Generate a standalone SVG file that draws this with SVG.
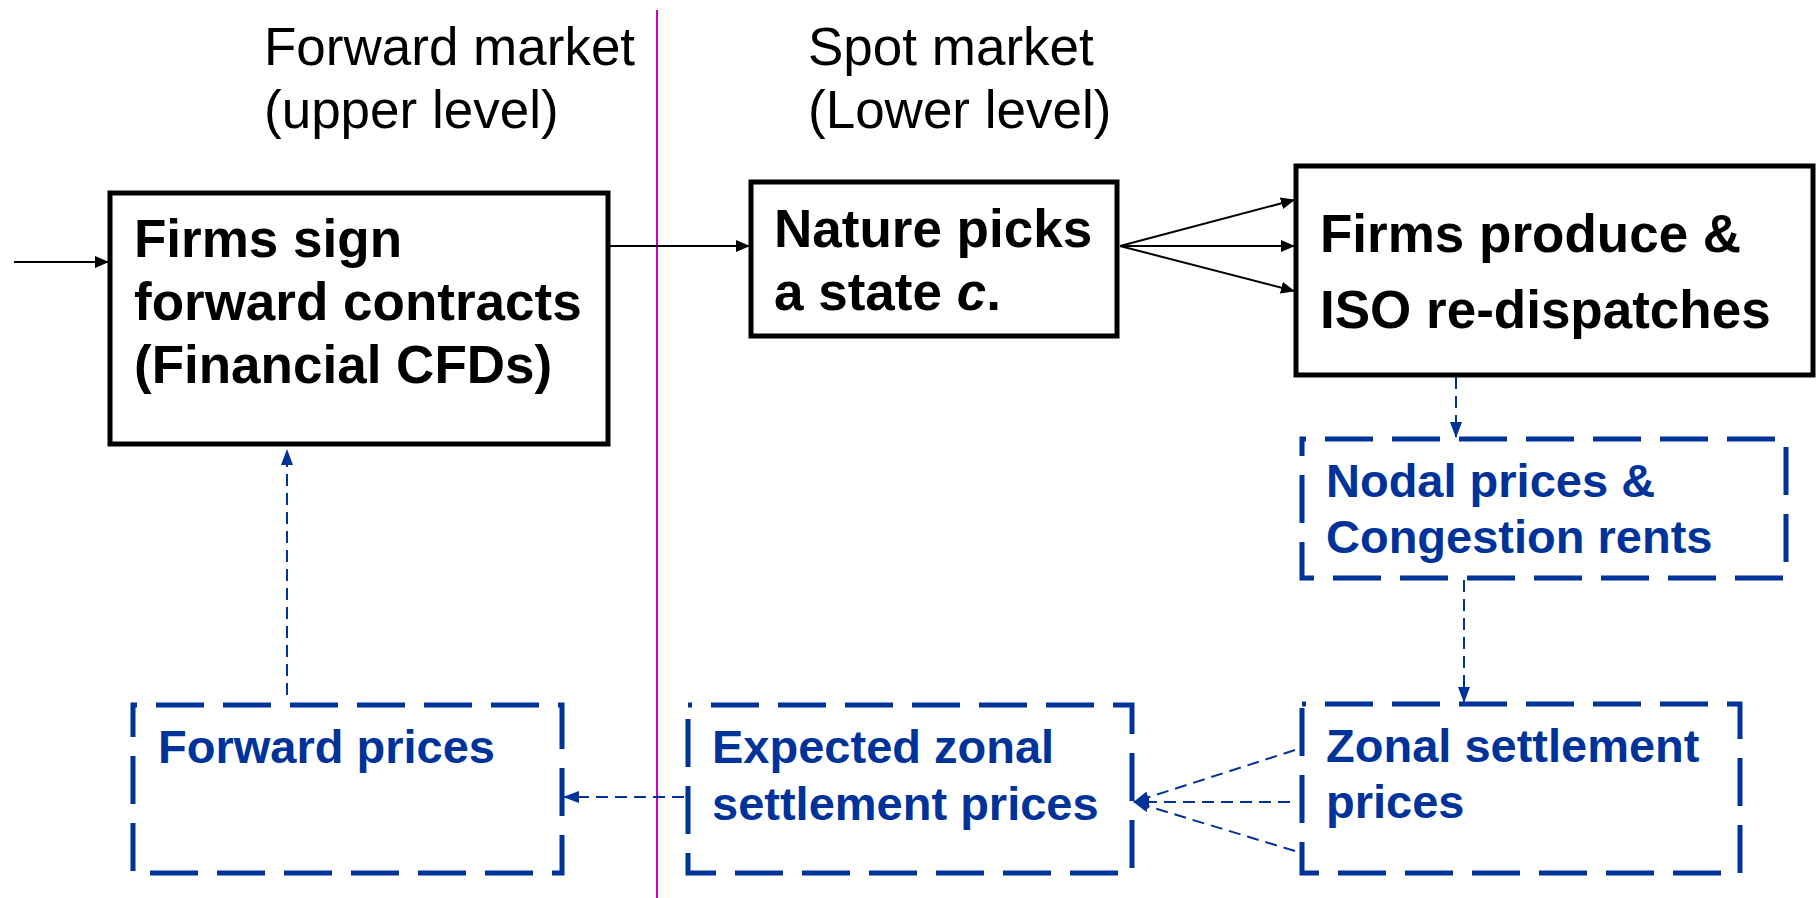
<svg xmlns="http://www.w3.org/2000/svg" width="1816" height="898" viewBox="0 0 1816 898">
  <style>
    .hdr { font-family: "Liberation Sans", Arial, sans-serif; font-size: 53px; fill: #000; }
    .blk { font-family: "Liberation Sans", Arial, sans-serif; font-size: 53px; font-weight: bold; fill: #000; }
    .blu { font-family: "Liberation Sans", Arial, sans-serif; font-size: 47px; font-weight: bold; fill: #003399; }
    .solidbox { fill: #fff; stroke: #000; stroke-width: 5; }
    .dashbox { fill: none; stroke: #003399; stroke-width: 5; stroke-dasharray: 48 19; stroke-dashoffset: 44; }
    .solid { stroke: #000; stroke-width: 2; fill: none; }
    .dash { stroke: #003399; stroke-width: 2; fill: none; stroke-dasharray: 12 7; }
  </style>
  <defs>
    <marker id="ab" markerUnits="userSpaceOnUse" markerWidth="14" markerHeight="12" refX="13" refY="6" orient="auto">
      <path d="M0,0 L14,6 L0,12 Z" fill="#000"/>
    </marker>
    <marker id="au" markerUnits="userSpaceOnUse" markerWidth="16" markerHeight="12" refX="15" refY="6" orient="auto">
      <path d="M0,0 L16,6 L0,12 Z" fill="#003399"/>
    </marker>
  </defs>

  <line x1="657" y1="10" x2="657" y2="898" stroke="#cc00cc" stroke-width="2"/>

  <g id="headers">
    <text class="hdr" x="264" y="65">Forward market</text>
    <text class="hdr" x="264" y="128">(upper level)</text>
    <text class="hdr" x="808" y="65">Spot market</text>
    <text class="hdr" x="808" y="128">(Lower level)</text>
  </g>

  <g id="connectors">
    <line class="solid" x1="14" y1="262" x2="108" y2="262" marker-end="url(#ab)"/>
    <line class="solid" x1="608" y1="246" x2="749" y2="246" marker-end="url(#ab)"/>
    <line class="solid" x1="1120" y1="246" x2="1294" y2="200" marker-end="url(#ab)"/>
    <line class="solid" x1="1120" y1="246" x2="1294" y2="246" marker-end="url(#ab)"/>
    <line class="solid" x1="1120" y1="246" x2="1294" y2="291" marker-end="url(#ab)"/>
    <line class="dash" x1="1456" y1="377" x2="1456" y2="437" marker-end="url(#au)"/>
    <line class="dash" x1="1464" y1="580" x2="1464" y2="702" marker-end="url(#au)"/>
    <line class="dash" x1="1295" y1="750" x2="1134" y2="802" marker-end="url(#au)"/>
    <line class="dash" x1="1290" y1="802" x2="1134" y2="802" marker-end="url(#au)"/>
    <line class="dash" x1="1295" y1="851" x2="1134" y2="802" marker-end="url(#au)"/>
    <line class="dash" x1="684" y1="797" x2="564" y2="797" marker-end="url(#au)"/>
    <line class="dash" x1="287" y1="695" x2="287" y2="450" marker-end="url(#au)"/>
  </g>

  <g id="node-forward-contracts">
    <rect class="solidbox" x="110" y="193" width="498" height="251"/>
    <text class="blk" x="134" y="257">Firms sign</text>
    <text class="blk" x="134" y="320">forward contracts</text>
    <text class="blk" x="134" y="383">(Financial CFDs)</text>
  </g>

  <g id="node-nature">
    <rect class="solidbox" x="751" y="182" width="366" height="154"/>
    <text class="blk" x="774" y="247">Nature picks</text>
    <text class="blk" x="774" y="310">a state <tspan font-style="italic">c</tspan>.</text>
  </g>

  <g id="node-produce">
    <rect class="solidbox" x="1296" y="166" width="517" height="209"/>
    <text class="blk" x="1320" y="252">Firms produce &amp;</text>
    <text class="blk" x="1320" y="328">ISO re-dispatches</text>
  </g>

  <g id="node-nodal">
    <rect class="dashbox" x="1302" y="439" width="484" height="139"/>
    <text class="blu" x="1326" y="497">Nodal prices &amp;</text>
    <text class="blu" x="1326" y="553">Congestion rents</text>
  </g>

  <g id="node-zonal">
    <rect class="dashbox" x="1302" y="704" width="438" height="169"/>
    <text class="blu" x="1326" y="762">Zonal settlement</text>
    <text class="blu" x="1326" y="818">prices</text>
  </g>

  <g id="node-expected">
    <rect class="dashbox" x="688" y="705" width="444" height="168"/>
    <text class="blu" x="712" y="763">Expected zonal</text>
    <text class="blu" x="712" y="820">settlement prices</text>
  </g>

  <g id="node-forward-prices">
    <rect class="dashbox" x="133" y="705" width="429" height="168"/>
    <text class="blu" x="158" y="763">Forward prices</text>
  </g>
</svg>
